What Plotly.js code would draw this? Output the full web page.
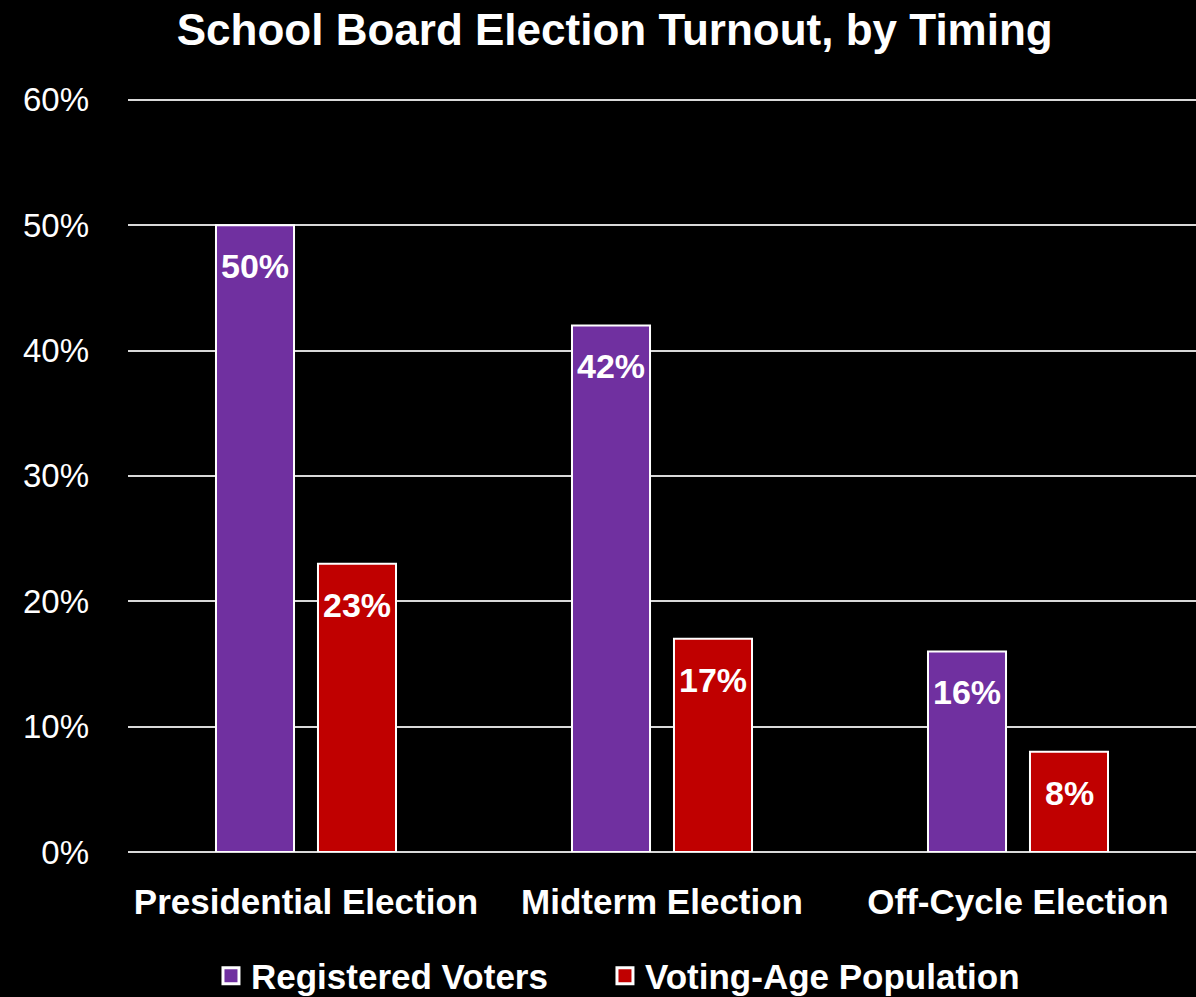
<!DOCTYPE html>
<html><head><meta charset="utf-8">
<script src="https://cdn.plot.ly/plotly-3.0.1.min.js"></script>
<style>html,body{margin:0;padding:0;background:#000;}</style>
</head><body>
<div id="chart" style="width:1196px;height:997px;"></div>
<script>
const categories = ["Presidential Election", "Midterm Election", "Off-Cycle Election"];
const seriesNames = ["Registered Voters", "Voting-Age Population"];
const registeredVoters = [50, 42, 16];
const votingAgePop = [23, 17, 8];
const seriesColors = ["#7030A0", "#C00000"];
const tickVals = [0, 10, 20, 30, 40, 50, 60];
const tickText = ["0%", "10%", "20%", "30%", "40%", "50%", "60%"];

const FONT = '"Liberation Sans", Arial, sans-serif';
const allSeries = [registeredVoters, votingAgePop];
const legendIds = ['legend', 'legend2'];

const data = [];
allSeries.forEach((vals, i) => {
  data.push({
    type: 'bar', name: seriesNames[i], x: categories, y: vals, showlegend: false,
    marker: {color: seriesColors[i], line: {color: '#ffffff', width: 2}},
    hoverinfo: 'skip'
  });
});
// legend entries (square symbols)
allSeries.forEach((vals, i) => {
  data.push({
    type: 'scatter', mode: 'markers', name: seriesNames[i], x: [null], y: [null],
    legend: legendIds[i],
    marker: {symbol: 'square', size: 16, color: seriesColors[i], line: {color: '#ffffff', width: 3}},
    hoverinfo: 'skip'
  });
});

const annotations = [];
const offsets = [-51, 51];
allSeries.forEach((vals, i) => {
  vals.forEach((v, j) => {
    annotations.push({
      x: categories[j], y: v, xref: 'x', yref: 'y', text: '<b>' + v + '%</b>',
      showarrow: false, xanchor: 'center', yanchor: 'top', xshift: offsets[i], yshift: -20,
      font: {family: FONT, size: 34, color: '#ffffff'}
    });
  });
});

function legendStyle(x) {
  return {orientation: 'h', x: x, xanchor: 'left', yref: 'container', y: 0.021, yanchor: 'middle',
    font: {family: FONT, size: 35, color: '#ffffff', weight: 'bold'},
    itemwidth: 30, bgcolor: 'rgba(0,0,0,0)'};
}

const layout = {
  width: 1196, height: 997,
  paper_bgcolor: '#000', plot_bgcolor: '#000',
  margin: {l: 128, r: 0, t: 96, b: 145, autoexpand: false},
  barmode: 'group', bargap: 0.427, bargroupgap: 0.235,
  title: {text: '<b>School Board Election Turnout, by Timing</b>', x: 0.514, xanchor: 'center', y: 0.97, yanchor: 'middle',
    font: {family: FONT, size: 44, color: '#ffffff'}},
  xaxis: {type: 'category', range: [-0.5, 2.5], showgrid: false, showline: false, ticks: '',
    tickfont: {family: FONT, size: 35, color: '#ffffff', weight: 'bold'}, ticklabelstandoff: 26, fixedrange: true},
  yaxis: {range: [0, 60.3], tickvals: tickVals, ticktext: tickText, showgrid: true, gridcolor: '#d9d9d9', gridwidth: 2,
    zeroline: true, zerolinecolor: '#d9d9d9', zerolinewidth: 2, ticks: '',
    tickfont: {family: FONT, size: 33, color: '#ffffff'}, ticklabelstandoff: 38, fixedrange: true},
  showlegend: true,
  legend: legendStyle(0.0777),
  legend2: legendStyle(0.4466),
  annotations: annotations,
  font: {family: FONT, color: '#ffffff'}
};

Plotly.newPlot('chart', data, layout, {displayModeBar: false, staticPlot: true});
</script>
</body></html>
